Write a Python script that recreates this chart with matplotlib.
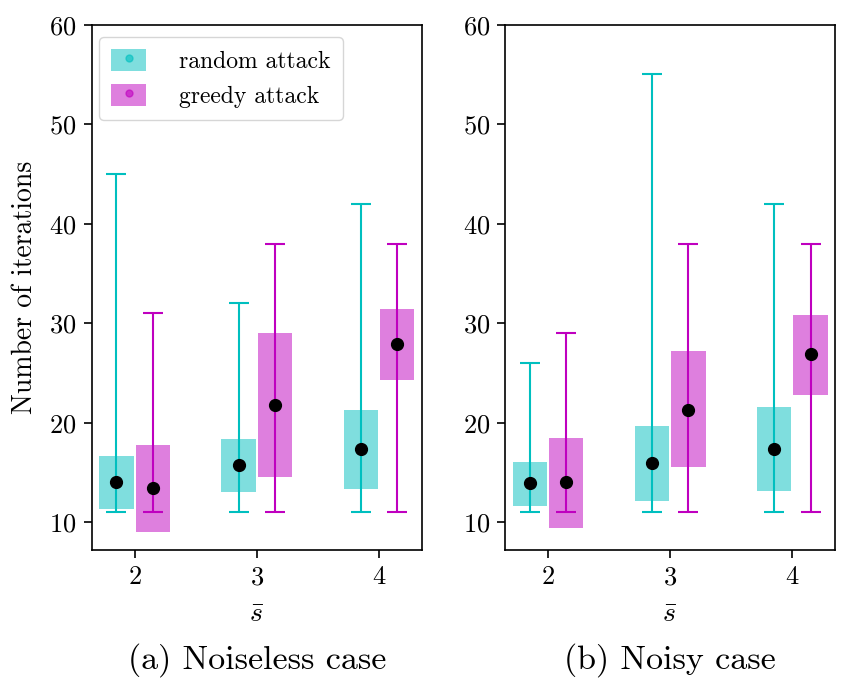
import matplotlib
matplotlib.use('Agg')
import matplotlib.pyplot as plt
from matplotlib.patches import Patch
from matplotlib.lines import Line2D

plt.rcParams['font.family'] = 'serif'
plt.rcParams['font.serif'] = ['cmr10']
plt.rcParams['mathtext.fontset'] = 'cm'
plt.rcParams['axes.formatter.use_mathtext'] = True

## s bar values
s_vals = [2, 3, 4]

## noiseless case: min, q1, mean, q3, max
rand_min_a = [11, 11, 11]
rand_q1_a = [11.3, 13.0, 13.35]
rand_mean_a = [14.0, 15.7, 17.4]
rand_q3_a = [16.6, 18.35, 21.3]
rand_max_a = [45, 32, 42]

greedy_min_a = [11, 11, 11]
greedy_q1_a = [9.0, 14.5, 24.25]
greedy_mean_a = [13.4, 21.8, 27.9]
greedy_q3_a = [17.8, 29.0, 31.4]
greedy_max_a = [31, 38, 38]

## noisy case
rand_min_b = [11, 11, 11]
rand_q1_b = [11.6, 12.15, 13.1]
rand_mean_b = [13.9, 15.9, 17.4]
rand_q3_b = [16.0, 19.7, 21.6]
rand_max_b = [26, 55, 42]

greedy_min_b = [11, 11, 11]
greedy_q1_b = [9.4, 15.5, 22.8]
greedy_mean_b = [14.0, 21.3, 26.9]
greedy_q3_b = [18.5, 27.2, 30.8]
greedy_max_b = [29, 38, 38]

fig = plt.figure(figsize=(8.52, 6.94), dpi=100)
ax1 = fig.add_axes([0.108, 0.2075, 0.387, 0.757])
ax2 = fig.add_axes([0.593, 0.2075, 0.387, 0.757])


def draw_group(ax, xs, mn, q1, mean, q3, mx, col):
    heights = [b - a for a, b in zip(q1, q3)]
    ax.bar(xs, heights, bottom=q1, width=0.28, color=col, alpha=0.5, zorder=1)
    lo = [m - a for m, a in zip(mean, mn)]
    hi = [b - m for m, b in zip(mean, mx)]
    ax.errorbar(xs, mean, yerr=[lo, hi], fmt='o', color='k', ms=8.5,
                ecolor=col, elinewidth=1.5, capsize=7, capthick=1.5, zorder=2)


panels = [
    (ax1, (rand_min_a, rand_q1_a, rand_mean_a, rand_q3_a, rand_max_a),
     (greedy_min_a, greedy_q1_a, greedy_mean_a, greedy_q3_a, greedy_max_a)),
    (ax2, (rand_min_b, rand_q1_b, rand_mean_b, rand_q3_b, rand_max_b),
     (greedy_min_b, greedy_q1_b, greedy_mean_b, greedy_q3_b, greedy_max_b)),
]

for ax, rnd, grd in panels:
    draw_group(ax, [s - 0.15 for s in s_vals], *rnd, 'c')
    draw_group(ax, [s + 0.15 for s in s_vals], *grd, 'm')
    ax.set_xlim(1.65, 4.35)
    ax.set_ylim(7.2, 60)
    ax.set_xticks(s_vals)
    ax.set_yticks([10, 20, 30, 40, 50, 60])
    ax.tick_params(labelsize=19, length=6, width=1.2, pad=5)
    ax.set_xlabel(r'$\bar{s}$', fontsize=20, labelpad=9)
    for sp in ax.spines.values():
        sp.set_linewidth(1.2)

ax1.set_ylabel('Number of iterations', fontsize=20, labelpad=8)

handles = [
    (Patch(facecolor='c', alpha=0.5),
     Line2D([], [], marker='o', color='c', ls='', ms=5, alpha=0.6)),
    (Patch(facecolor='m', alpha=0.5),
     Line2D([], [], marker='o', color='m', ls='', ms=5, alpha=0.6)),
]
ax1.legend(handles, ['random attack', 'greedy attack'], loc='upper left',
           bbox_to_anchor=(0.0, 0.99), borderaxespad=0.3, borderpad=0.5,
           fontsize=17, handlelength=1.5, handleheight=1.1, handletextpad=1.4,
           labelspacing=0.45)

fig.text(0.3015, 0.049, '(a) Noiseless case', ha='center', va='center', fontsize=24.5)
fig.text(0.7865, 0.049, '(b) Noisy case', ha='center', va='center', fontsize=24.5)

fig.savefig('out.png', dpi=100)
